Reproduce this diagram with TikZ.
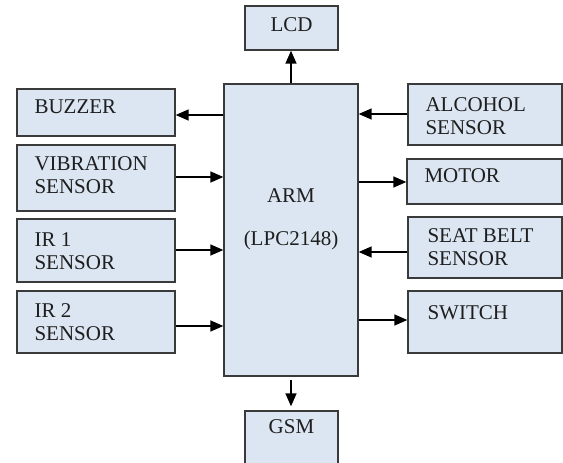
\documentclass[tikz,border=0pt]{standalone}
\usepackage{fontspec}
\setmainfont{Liberation Serif}
\usetikzlibrary{arrows.meta}
\definecolor{boxfill}{HTML}{DCE6F2}
\definecolor{boxline}{HTML}{3A3A3A}
\definecolor{txt}{HTML}{1E1E1E}
\begin{document}
\begin{tikzpicture}[x=1pt,y=-1pt,
  blk/.style={draw=boxline, fill=boxfill, line width=1.3pt, rectangle, inner sep=0pt},
  lbl/.style={anchor=north west, inner sep=0pt, align=left, text=txt, font=\fontsize{21}{23}\selectfont},
  ctr/.style={anchor=base, inner sep=0pt, text=txt, font=\fontsize{21}{23}\selectfont},
  arr/.style={draw=black, line width=1.4pt, -{Triangle[length=13pt,width=11pt]}}]
\useasboundingbox (0,0) rectangle (563,463);

% boxes
\node[blk, minimum width=93pt,  minimum height=44pt]  (lcd)    at (291.5,28)   {};
\node[blk, minimum width=158pt, minimum height=47pt]  (buzzer) at (96,112.5)   {};
\node[blk, minimum width=158pt, minimum height=66pt]  (vib)    at (96,178)     {};
\node[blk, minimum width=158pt, minimum height=63pt]  (ir1)    at (96,250.5)   {};
\node[blk, minimum width=158pt, minimum height=62pt]  (ir2)    at (96,322)     {};
\node[blk, minimum width=134pt, minimum height=292pt] (arm)    at (291,230)    {};
\node[blk, minimum width=154pt, minimum height=61pt]  (alc)    at (485,114.5)  {};
\node[blk, minimum width=155pt, minimum height=45pt]  (motor)  at (484.5,181.5){};
\node[blk, minimum width=154pt, minimum height=61pt]  (seat)   at (485,247.5)  {};
\node[blk, minimum width=154pt, minimum height=62pt]  (switch) at (485,322)    {};
\node[blk, minimum width=93pt,  minimum height=64pt]  (gsm)    at (291.5,443)  {};

% texts
\node[ctr] (tlcd) at (lcd.north |- 0,31) {LCD};
\node[lbl] (tbuzzer) at ([shift={(18,11)}]buzzer.north west) {BUZZER};
\node[lbl] (tvib) at ([shift={(18,12)}]vib.north west) {VIBRATION\\SENSOR};
\node[lbl] (tir1) at ([shift={(18,14)}]ir1.north west) {IR 1\\SENSOR};
\node[lbl] (tir2) at ([shift={(18,13)}]ir2.north west) {IR 2\\SENSOR};
\node[lbl] (talc) at ([shift={(18,14)}]alc.north west) {ALCOHOL\\SENSOR};
\node[lbl] (tmotor) at ([shift={(18,10)}]motor.north west) {MOTOR};
\node[lbl] (tseat) at ([shift={(20,12)}]seat.north west) {SEAT BELT\\SENSOR};
\node[lbl] (tswitch) at ([shift={(20,15)}]switch.north west) {SWITCH};
\node[ctr] (tarm) at (arm.north |- 0,202) {ARM};
\node[ctr] (tlpc) at (arm.north |- 0,245) {(LPC2148)};
\node[ctr] (tgsm) at (gsm.north |- 0,433) {GSM};

% connectors
\draw[arr] (arm.north) -- (arm.north |- lcd.south);
\draw[arr] ([yshift=-3pt]arm.south) -- ([yshift=4pt]arm.south |- gsm.north);
\draw[arr] (arm.west |- 0,115) -- (buzzer.east |- 0,115);
\draw[arr] (vib.east |- 0,177) -- (arm.west |- 0,177);
\draw[arr] (ir1.east |- 0,250) -- (arm.west |- 0,250);
\draw[arr] (ir2.east |- 0,326) -- (arm.west |- 0,326);
\draw[arr] (alc.west |- 0,114) -- (arm.east |- 0,114);
\draw[arr] (arm.east |- 0,182) -- (motor.west |- 0,182);
\draw[arr] (seat.west |- 0,252) -- (arm.east |- 0,252);
\draw[arr] (arm.east |- 0,320) -- (switch.west |- 0,320);
\end{tikzpicture}
\end{document}
